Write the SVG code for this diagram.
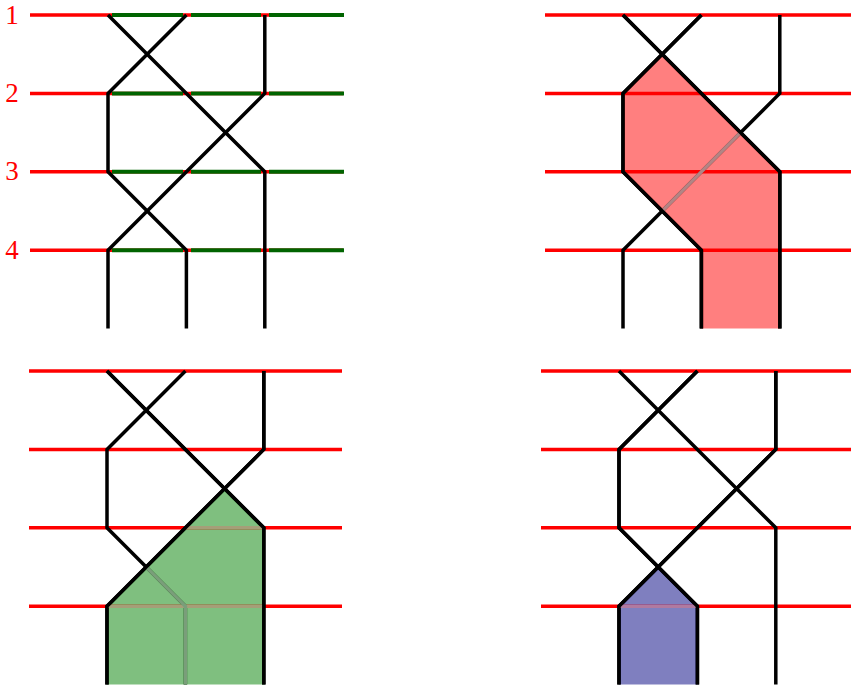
<svg xmlns="http://www.w3.org/2000/svg" width="851" height="687" viewBox="0 0 851 687">
<defs>
<style>
.rl{stroke:#ff0000;stroke-width:3.5;fill:none}
.gl{stroke:#006400;stroke-width:4;fill:none}
.w{stroke:#000;stroke-width:3.5;fill:none;stroke-linejoin:miter}
.lab{font-family:"Liberation Serif",serif;font-size:27px;fill:#ff0000;text-anchor:middle}
</style>
<g id="rails">
<path class="rl" d="M-78,0H235M-78,78.4H235M-78,156.8H235M-78,235.2H235"/>
</g>
<g id="wireA"><path class="w" d="M0,0L78.4,78.4L156.8,156.8V313.6"/></g>
<g id="wireB"><path class="w" d="M78.4,0L0,78.4V156.8L78.4,235.2V313.6"/></g>
<g id="wireC"><path class="w" d="M156.8,0V78.4L78.4,156.8L0,235.2V313.6"/></g>
</defs>
<rect width="851" height="687" fill="#fff"/>

<g id="labels">
<text class="lab" x="12" y="24">1</text>
<text class="lab" x="12" y="102">2</text>
<text class="lab" x="12" y="180">3</text>
<text class="lab" x="12" y="259">4</text>
</g>

<g id="panel1" transform="translate(108,15)">
<use href="#rails"/>
<path class="gl" d="M4,0H75M83,0H153M161,0H236M4,78.4H75M83,78.4H153M161,78.4H236M4,156.8H75M83,156.8H153M161,156.8H236M4,235.2H75M83,235.2H153M161,235.2H236"/>
<g id="connectors1"><use href="#wireA"/><use href="#wireB"/><use href="#wireC"/></g>
</g>

<g id="panel2" transform="translate(623,15)">
<use href="#rails"/>
<g id="connectors2"><use href="#wireA"/><use href="#wireB"/><use href="#wireC"/></g>
<path d="M39.2,39.2L78.4,78.4L156.8,156.8V313.6H78.4V235.2L39.2,196L0,156.8V78.4Z" fill="#ff0000" fill-opacity="0.5"/>
<path d="M117.6,117.6L39.2,196" stroke="#b28585" stroke-width="3.5" fill="none"/>
<use href="#wireA"/><use href="#wireB"/>
</g>

<g id="panel3" transform="translate(107,371)">
<use href="#rails"/>
<g id="connectors3"><use href="#wireA"/><use href="#wireB"/><use href="#wireC"/></g>
<path d="M117.6,117.6L156.8,156.8V313.6H0V235.2Z" fill="#008000" fill-opacity="0.5"/>
<path d="M78.4,156.8H156.8M0,235.2H156.8" stroke="#a59e78" stroke-width="3.5" fill="none"/>
<path d="M39.2,196L78.4,235.2V313.6" stroke="#7a9e7a" stroke-width="3.5" fill="none"/>
<use href="#wireA"/><use href="#wireC"/>
</g>

<g id="panel4" transform="translate(619,371)">
<use href="#rails"/>
<g id="connectors4"><use href="#wireA"/><use href="#wireB"/><use href="#wireC"/></g>
<path d="M39.2,196L78.4,235.2V313.6H0V235.2Z" fill="#000080" fill-opacity="0.5"/>
<path d="M0,235.2H78.4" stroke="#b07aa0" stroke-width="3.5" fill="none"/>
<use href="#wireB"/><use href="#wireC"/>
</g>
</svg>
